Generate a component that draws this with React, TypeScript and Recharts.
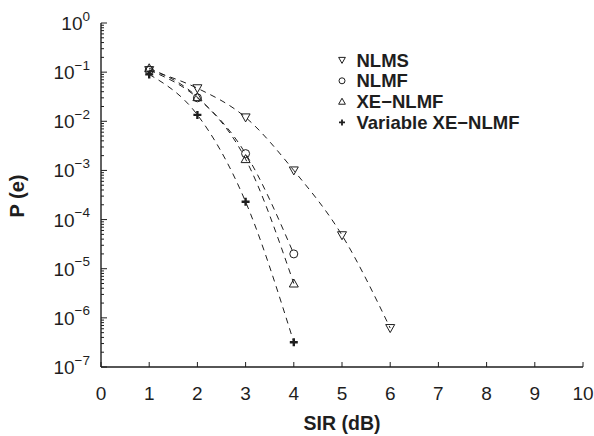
import { Line, LineChart, XAxis, YAxis } from "recharts"

/* ---------- data ---------- */

const SIR_DB = [1, 2, 3, 4, 5, 6]
const NLMS = [0.11, 0.047, 0.012, 0.001, 4.8e-5, 6.2e-7]
const NLMF = [0.11, 0.03, 0.0022, 2.0e-5]
const XE_NLMF = [0.12, 0.031, 0.0017, 5.0e-6]
const VAR_XE_NLMF = [0.09, 0.0135, 2.3e-4, 3.2e-7]

const X_TICKS = [0, 1, 2, 3, 4, 5, 6, 7, 8, 9, 10]
const Y_EXPONENTS = [0, -1, -2, -3, -4, -5, -6, -7]
const MINOR_MULTIPLIERS = [2, 3, 4, 5, 6, 7, 8, 9]

const INK = "#1e1e1e"
const FONT = "'Liberation Sans', Arial, sans-serif"

const yTicks = Y_EXPONENTS.flatMap((e) =>
  e < 0 ? [10 ** e, ...MINOR_MULTIPLIERS.map((m) => m * 10 ** e)] : [10 ** e]
)

const toRows = (ys: number[]) => ys.map((p, i) => ({ sir: SIR_DB[i], p }))

type Kind = "down" | "up" | "circle" | "plus"

const series: { key: string; name: string; kind: Kind; values: number[] }[] = [
  { key: "nlms", name: "NLMS", kind: "down", values: NLMS },
  { key: "nlmf", name: "NLMF", kind: "circle", values: NLMF },
  { key: "xe", name: "XE\u2212NLMF", kind: "up", values: XE_NLMF },
  { key: "vxe", name: "Variable XE\u2212NLMF", kind: "plus", values: VAR_XE_NLMF },
]

function Marker({ kind, cx, cy, s = 1 }: { kind: Kind; cx: number; cy: number; s?: number }) {
  const a = 4.5 * s
  const b = 3.5 * s
  if (kind === "down")
    return (
      <polygon
        points={`${cx - a},${cy - b} ${cx + a},${cy - b} ${cx},${cy + a}`}
        fill="none"
        stroke={INK}
        strokeWidth={1}
      />
    )
  if (kind === "up")
    return (
      <polygon
        points={`${cx - a},${cy + b} ${cx + a},${cy + b} ${cx},${cy - a}`}
        fill="none"
        stroke={INK}
        strokeWidth={1}
      />
    )
  if (kind === "circle")
    return <circle cx={cx} cy={cy} r={4 * s} fill="none" stroke={INK} strokeWidth={1} />
  const p = 4 * s
  return (
    <path
      d={`M${cx - p},${cy}H${cx + p}M${cx},${cy - p}V${cy + p}`}
      stroke={INK}
      strokeWidth={2.4 * s}
    />
  )
}

const isMajor = (v: number) => Math.abs(Math.log10(v) - Math.round(Math.log10(v))) < 1e-6

function LeftTick({ x, y, payload }: any) {
  const v = payload.value
  const major = isMajor(v)
  const e = Math.round(Math.log10(v))
  return (
    <g>
      <line x1={x} x2={x + (major ? 6 : 3)} y1={y} y2={y} stroke={INK} />
      {major && (
        <text x={x - 11} y={y + 7} textAnchor="end" fontSize={19} fill={INK} fontFamily={FONT}>
          10
          <tspan dy={-9.5} fontSize={13.5}>
            {e < 0 ? `\u2212${-e}` : e}
          </tspan>
        </text>
      )}
    </g>
  )
}

function RightTick({ x, y, payload }: any) {
  const major = isMajor(payload.value)
  return <line x1={x} x2={x - (major ? 6 : 3)} y1={y} y2={y} stroke={INK} />
}

function BottomTick({ x, y, payload }: any) {
  return (
    <g>
      <line x1={x} x2={x} y1={y} y2={y - 5} stroke={INK} />
      <text x={x} y={y + 33} textAnchor="middle" fontSize={19} fill={INK} fontFamily={FONT}>
        {payload.value}
      </text>
    </g>
  )
}

function TopTick({ x, y }: any) {
  return <line x1={x} x2={x} y1={y} y2={y + 5} stroke={INK} />
}

export default function App() {
  return (
    <div style={{ position: "absolute", left: 0, top: 0, width: 594, height: 436, background: "#fff" }}>
      <LineChart width={594} height={436} margin={{ top: 23, right: 11, left: 0, bottom: 0 }}>
        <XAxis
          xAxisId="b"
          dataKey="sir"
          type="number"
          domain={[0, 10]}
          ticks={X_TICKS}
          height={69}
          tickSize={0}
          tickMargin={0}
          tickLine={false}
          tick={<BottomTick />}
          axisLine={{ stroke: INK, strokeWidth: 1.4 }}
          allowDataOverflow
        />
        <XAxis
          xAxisId="t"
          orientation="top"
          dataKey="sir"
          type="number"
          domain={[0, 10]}
          ticks={X_TICKS}
          height={0}
          tickSize={0}
          tickMargin={0}
          tickLine={false}
          tick={<TopTick />}
          axisLine={{ stroke: INK, strokeWidth: 1.2 }}
          allowDataOverflow
        />
        <YAxis
          yAxisId="l"
          dataKey="p"
          scale="log"
          domain={[1e-7, 1]}
          ticks={yTicks}
          width={101}
          interval={0}
          tickSize={0}
          tickMargin={0}
          tickLine={false}
          tick={<LeftTick />}
          axisLine={{ stroke: INK, strokeWidth: 1.4 }}
          allowDataOverflow
        />
        <YAxis
          yAxisId="r"
          orientation="right"
          dataKey="p"
          scale="log"
          domain={[1e-7, 1]}
          ticks={yTicks}
          width={0}
          interval={0}
          tickSize={0}
          tickMargin={0}
          tickLine={false}
          tick={<RightTick />}
          axisLine={{ stroke: INK, strokeWidth: 1.2 }}
          allowDataOverflow
        />
        {series.map((s) => (
          <Line
            key={s.key}
            xAxisId="b"
            yAxisId="l"
            data={toRows(s.values)}
            dataKey="p"
            name={s.name}
            type="monotone"
            stroke={INK}
            strokeWidth={1}
            strokeDasharray="6 5"
            isAnimationActive={false}
            dot={(props: any) =>
              props.cx == null || props.cy == null ? (
                <g key={props.index} />
              ) : (
                <Marker key={props.index} kind={s.kind} cx={props.cx} cy={props.cy} />
              )
            }
            activeDot={false}
          />
        ))}
      </LineChart>

      <svg
        width={594}
        height={436}
        style={{ position: "absolute", left: 0, top: 0, pointerEvents: "none" }}
      >
        {series.map((s, i) => (
          <g key={s.key}>
            <Marker kind={s.kind} cx={342} cy={60 + i * 20.8} s={0.75} />
            <text
              x={356.5}
              y={60 + i * 20.8 + 6.5}
              fontSize={18.5}
              fontWeight="bold"
              fill={INK}
              fontFamily={FONT}
            >
              {s.name}
            </text>
          </g>
        ))}
        <text
          x={342}
          y={430}
          textAnchor="middle"
          fontSize={19.5}
          fontWeight="bold"
          fill={INK}
          fontFamily={FONT}
        >
          SIR (dB)
        </text>
        <text
          transform="translate(24,196) rotate(-90)"
          textAnchor="middle"
          fontSize={20}
          fontWeight="bold"
          fill={INK}
          fontFamily={FONT}
        >
          P (e)
        </text>
      </svg>
    </div>
  )
}
